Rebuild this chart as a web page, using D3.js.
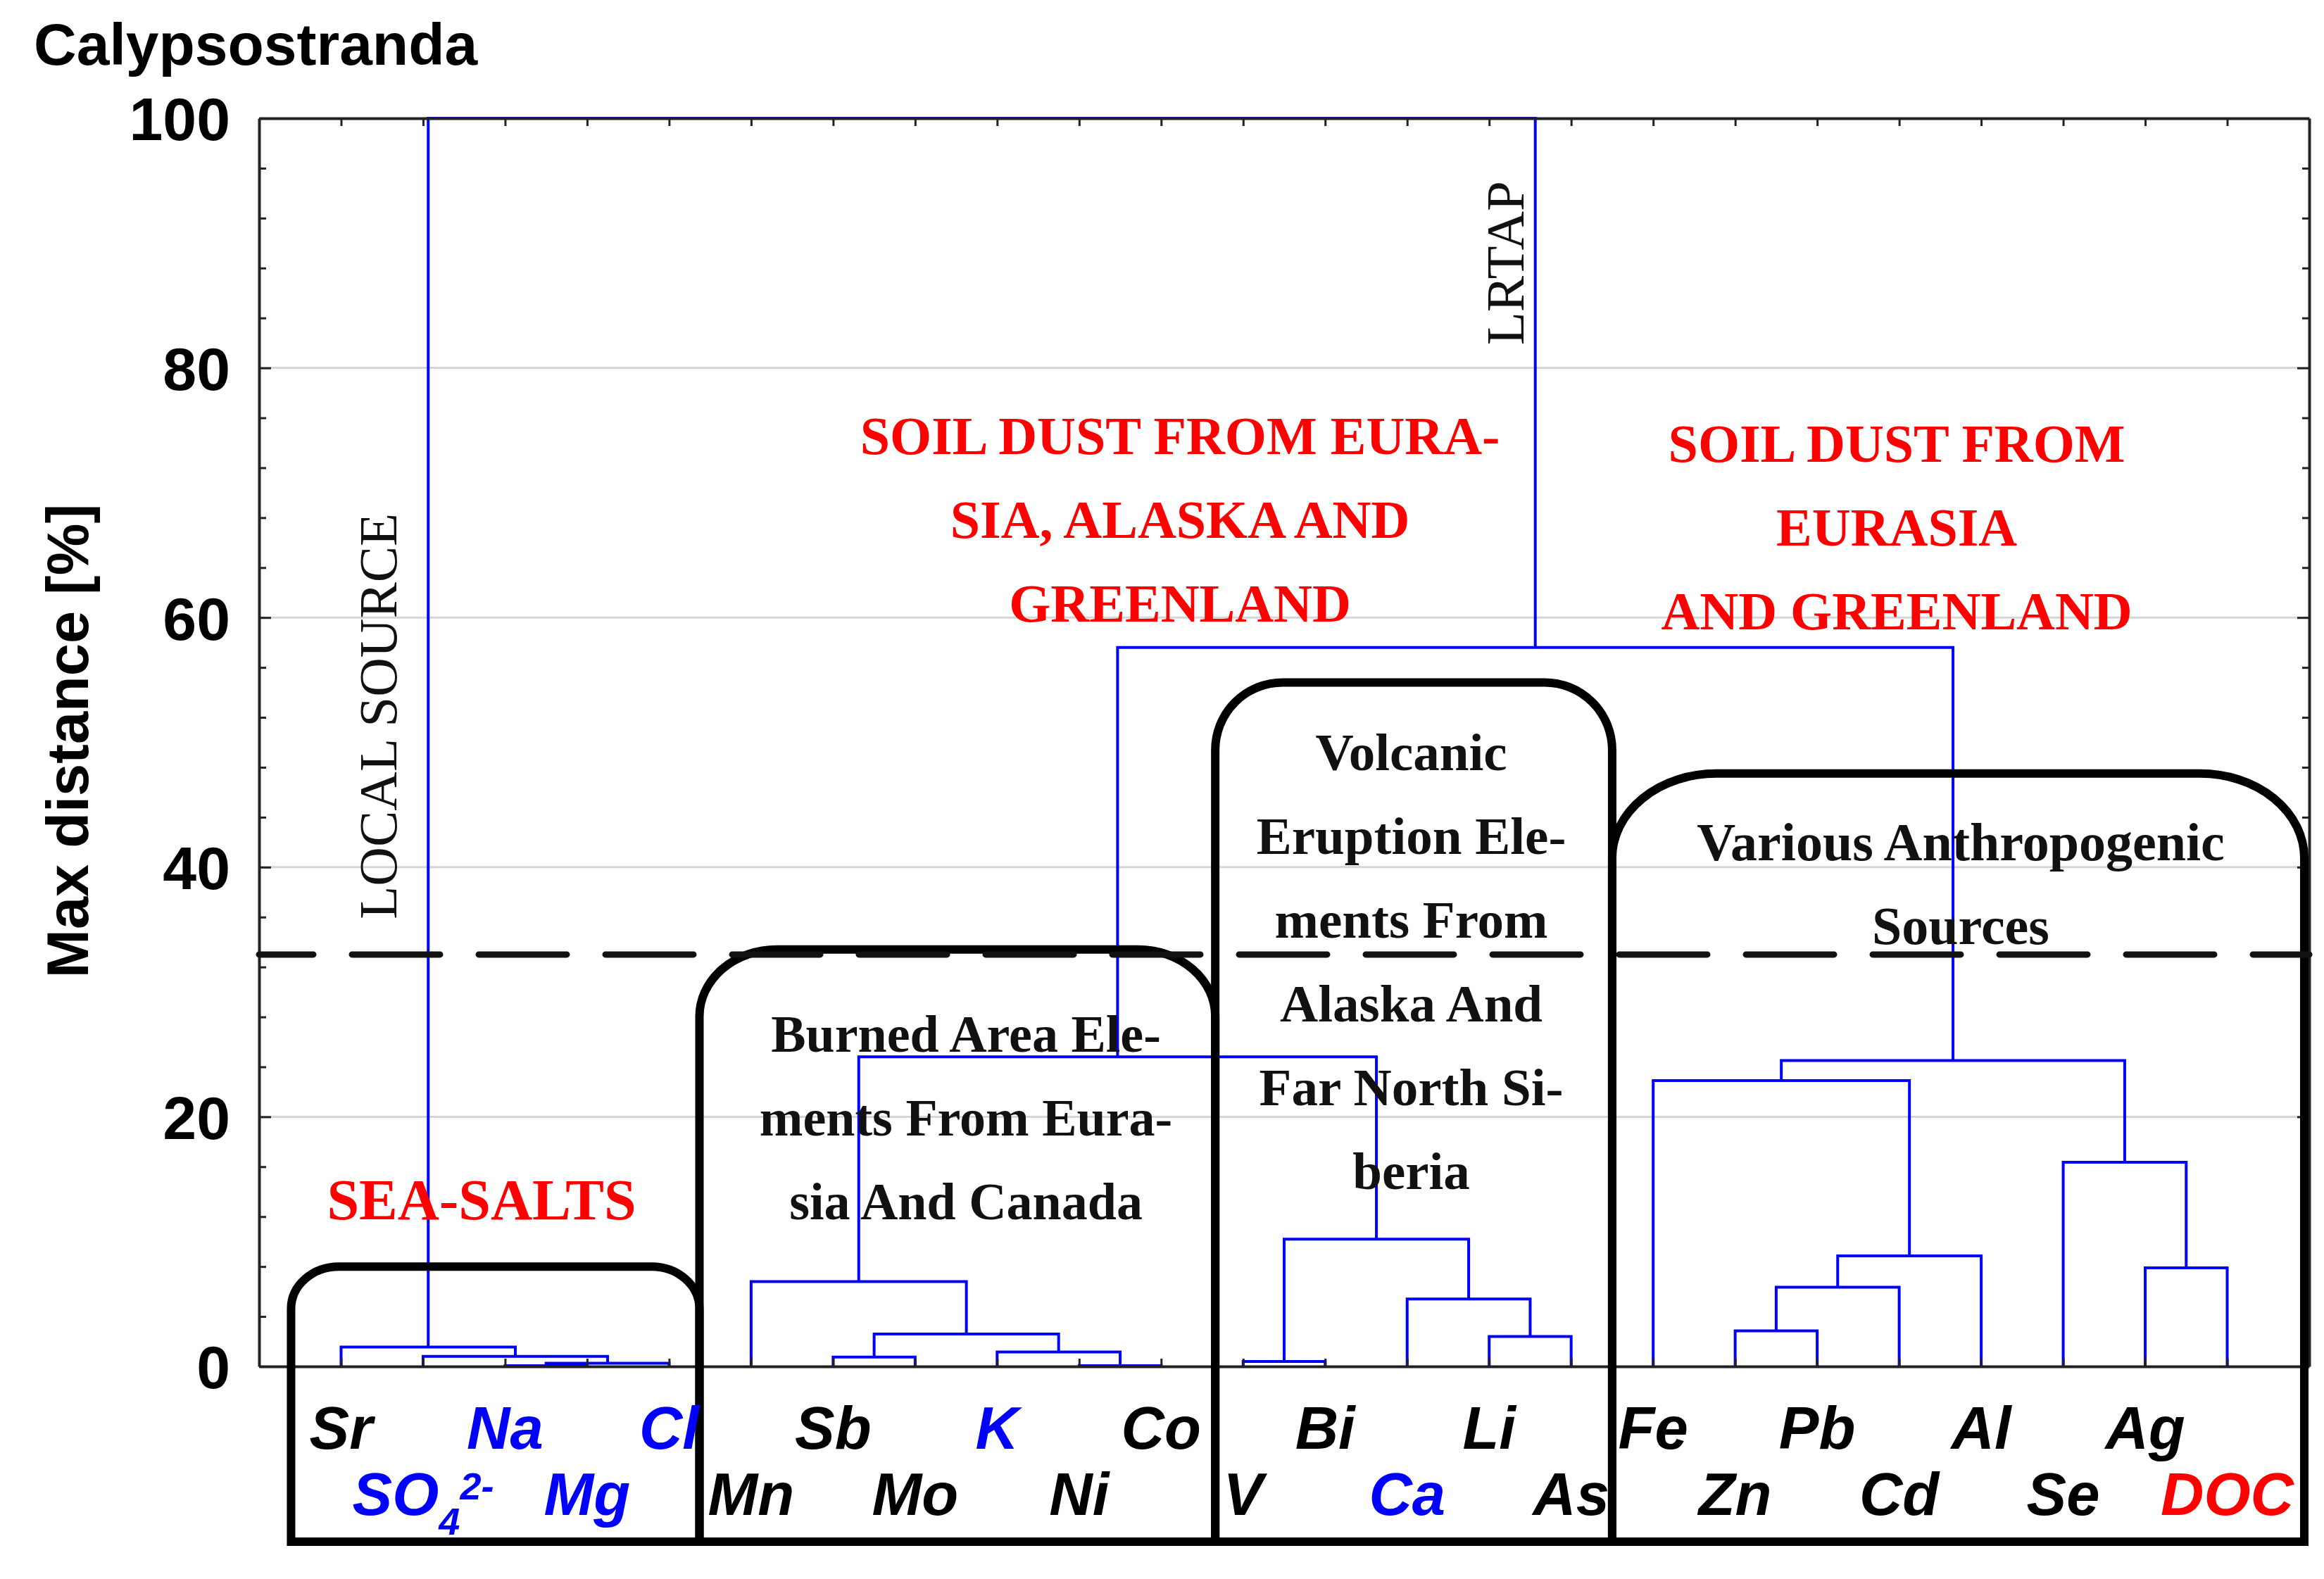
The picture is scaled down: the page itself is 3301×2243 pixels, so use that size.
<!DOCTYPE html>
<html>
<head>
<meta charset="utf-8">
<script src="https://cdn.jsdelivr.net/npm/d3@7"></script>
<style>
  body { margin: 0; background: #fff; }
</style>
</head>
<body>
<div id="vis"></div>
<script>
// leaves in tree order, left to right
const leaves = ['Sr', 'SO4', 'Na', 'Mg', 'Cl', 'Mn', 'Sb', 'Mo', 'K', 'Ni', 'Co', 'V',
  'Bi', 'Ca', 'Li', 'As', 'Fe', 'Zn', 'Pb', 'Cd', 'Al', 'Se', 'Ag', 'DOC'];
const blueLeaves = ['SO4', 'Na', 'Mg', 'Cl', 'K', 'Ca'];
const redLeaves = ['DOC'];

// linkage steps: [left, right, max distance %]; step i creates cluster 'c' + i
const merges = [
  ['Na', 'Mg', 0.05],
  ['c0', 'Cl', 0.25],
  ['SO4', 'c1', 0.8],
  ['Sr', 'c2', 1.55],
  ['Ni', 'Co', 0.05],
  ['Sb', 'Mo', 0.75],
  ['K', 'c4', 1.15],
  ['c5', 'c6', 2.6],
  ['Mn', 'c7', 6.8],
  ['V', 'Bi', 0.4],
  ['Li', 'As', 2.4],
  ['Ca', 'c10', 5.4],
  ['c9', 'c11', 10.2],
  ['c8', 'c12', 24.8],
  ['Zn', 'Pb', 2.85],
  ['c14', 'Cd', 6.35],
  ['c15', 'Al', 8.85],
  ['Fe', 'c16', 22.9],
  ['Ag', 'DOC', 7.9],
  ['Se', 'c18', 16.35],
  ['c17', 'c19', 24.5],
  ['c13', 'c20', 57.6],
  ['c3', 'c21', 100]
];

const yLabels = [0, 20, 40, 60, 80, 100];
const cutoff = 33;

// annotation groups (leaf units / distance %)
const groupBoxes = [
  { from: 0.39, to: 5.37, top: 8, rx: 68, ry: 60 },
  { from: 5.37, to: 11.66, top: 33.4, rx: 110, ry: 95 },
  { from: 11.66, to: 16.5, top: 54.8, rx: 96, ry: 96 },
  { from: 16.5, to: 24.94, top: 47.5, rx: 148, ry: 120 }
];
const boxBottom = -14.05;

const notes = [
  { lines: ['SEA-SALTS'], x: 2.713, y: 11.79, color: '#ff0000', size: 82 },
  { lines: ['SOIL DUST FROM EURA-', 'SIA, ALASKA AND', 'GREENLAND'], x: 11.23, y: 73.1, color: '#ff0000', size: 76 },
  { lines: ['SOIL DUST FROM', 'EURASIA', 'AND GREENLAND'], x: 19.97, y: 72.5, color: '#ff0000', size: 76 },
  { lines: ['Burned Area Ele-', 'ments From Eura-', 'sia And Canada'], x: 8.62, y: 25.2, color: '#111', size: 74 },
  { lines: ['Volcanic', 'Eruption Ele-', 'ments From', 'Alaska And', 'Far North Si-', 'beria'], x: 14.05, y: 47.8, color: '#111', size: 75 },
  { lines: ['Various Anthropogenic', 'Sources'], x: 20.75, y: 40.55, color: '#111', size: 76 }
];
const sideNotes = [
  { text: 'LOCAL SOURCE', x: 1.674, y: 52.1 },
  { text: 'LRTAP', x: 15.42, y: 88.4 }
];

const width = 3301, height = 2243;
const sans = 'Liberation Sans, Arial, sans-serif';
const serif = 'Liberation Serif, Times New Roman, serif';

const x = d3.scaleLinear().domain([0, leaves.length + 1]).range([368, 3280]);
const y = d3.scaleLinear().domain([0, 100]).range([1941, 168]);

const svg = d3.select('#vis')
  .append('svg')
  .attr('width', width)
  .attr('height', height)
  .style('background', '#fff');

// title
svg.append('text')
  .attr('x', 48)
  .attr('y', 92)
  .style('font-family', sans)
  .style('font-weight', 'bold')
  .style('font-size', '84px')
  .text('Calypsostranda');

// grid
svg.append('g')
  .selectAll('line')
  .data([20, 40, 60, 80])
  .enter()
  .append('line')
  .attr('x1', x.range()[0])
  .attr('x2', x.range()[1])
  .attr('y1', d => y(d))
  .attr('y2', d => y(d))
  .attr('stroke', '#d6d6d6')
  .attr('stroke-width', 3);

// dendrogram
const nodes = {};
leaves.forEach((name, i) => { nodes[name] = { pos: i + 1, h: 0 }; });
const links = merges.map(([a, b, h], i) => {
  const A = nodes[a], B = nodes[b];
  nodes['c' + i] = { pos: (A.pos + B.pos) / 2, h: h };
  return { A, B, h };
});

svg.append('g')
  .selectAll('path')
  .data(links)
  .enter()
  .append('path')
  .attr('d', d => `M${x(d.A.pos)},${y(d.A.h)}V${y(d.h)}H${x(d.B.pos)}V${y(d.B.h)}`)
  .attr('fill', 'none')
  .attr('stroke', '#0000ff')
  .attr('stroke-width', 4);

// axes
const minor = d3.range(0, 101, 4);
const yAxis = svg.append('g')
  .attr('transform', `translate(${x.range()[0]},0)`)
  .call(d3.axisLeft(y).tickValues(minor).tickSize(-10).tickSizeOuter(0).tickPadding(41)
    .tickFormat(d => yLabels.includes(d) ? d : ''));
yAxis.selectAll('.tick line')
  .attr('x2', d => d % 20 === 0 ? 17 : 10);
yAxis.selectAll('.tick text')
  .attr('dy', '0.36em')
  .style('font-family', sans)
  .style('font-weight', 'bold')
  .style('font-size', '86px')
  .attr('fill', '#000');

const yAxisRight = svg.append('g')
  .attr('transform', `translate(${x.range()[1]},0)`)
  .call(d3.axisRight(y).tickValues(minor).tickSize(-10).tickSizeOuter(0).tickFormat(''));
yAxisRight.selectAll('.tick line')
  .attr('x2', d => d % 20 === 0 ? -17 : -10);

const leafPos = leaves.map((d, i) => i + 1);
const xTop = svg.append('g')
  .attr('transform', `translate(0,${y(100)})`)
  .call(d3.axisTop(x).tickValues(leafPos).tickSize(-11).tickSizeOuter(0).tickFormat(''));
const xBottom = svg.append('g')
  .attr('transform', `translate(0,${y(0)})`)
  .call(d3.axisBottom(x).tickValues(leafPos).tickSize(-11).tickSizeOuter(0).tickFormat(''));

[yAxis, yAxisRight, xTop, xBottom].forEach(g => {
  g.select('.domain').attr('stroke', '#222').attr('stroke-width', 4);
  g.selectAll('.tick line').attr('stroke', '#222').attr('stroke-width', 3);
});

// y axis title
svg.append('text')
  .attr('transform', `translate(125,${y(50) - 2}) rotate(-90)`)
  .attr('text-anchor', 'middle')
  .style('font-family', sans)
  .style('font-weight', 'bold')
  .style('font-size', '83px')
  .text('Max distance [%]');

// group boxes
const yb = y(boxBottom);
svg.append('g')
  .selectAll('path')
  .data(groupBoxes)
  .enter()
  .append('path')
  .attr('d', d => {
    const x0 = x(d.from), x1 = x(d.to), yt = y(d.top);
    return `M${x0},${yb}V${yt + d.ry}A${d.rx},${d.ry} 0 0 1 ${x0 + d.rx},${yt}` +
      `H${x1 - d.rx}A${d.rx},${d.ry} 0 0 1 ${x1},${yt + d.ry}V${yb}Z`;
  })
  .attr('fill', 'none')
  .attr('stroke', '#000')
  .attr('stroke-width', 12)
  .attr('stroke-linejoin', 'miter');

// cut-off line
svg.append('line')
  .attr('x1', x.range()[0])
  .attr('x2', x.range()[1])
  .attr('y1', y(cutoff))
  .attr('y2', y(cutoff))
  .attr('stroke', '#111')
  .attr('stroke-width', 9)
  .attr('stroke-linecap', 'round')
  .attr('stroke-dasharray', '125,55')
  .attr('stroke-dashoffset', 48);

// leaf labels, two staggered rows
const leafLabels = svg.append('g')
  .selectAll('text')
  .data(leaves)
  .enter()
  .append('text')
  .attr('x', (d, i) => x(i + 1))
  .attr('y', (d, i) => y(0) + (i % 2 === 0 ? 117 : 211))
  .attr('text-anchor', 'middle')
  .style('font-family', sans)
  .style('font-weight', 'bold')
  .style('font-style', 'italic')
  .style('font-size', '85px')
  .attr('fill', d => blueLeaves.includes(d) ? '#0000ff' : redLeaves.includes(d) ? '#ff0000' : '#000');

leafLabels.each(function(d) {
  const t = d3.select(this);
  if (d === 'SO4') {
    t.append('tspan').text('SO');
    t.append('tspan').attr('dy', 28).style('font-size', '54px').text('4');
    t.append('tspan').attr('dy', -50).style('font-size', '54px').text('2-');
  } else {
    t.text(d);
  }
});

// group notes
notes.forEach(n => {
  const t = svg.append('text')
    .attr('text-anchor', 'middle')
    .attr('fill', n.color)
    .style('font-family', serif)
    .style('font-weight', 'bold')
    .style('font-size', n.size + 'px');
  n.lines.forEach((line, i) => {
    t.append('tspan')
      .attr('x', x(n.x))
      .attr('y', y(n.y) + i * 119)
      .text(line);
  });
});

svg.append('g')
  .selectAll('text')
  .data(sideNotes)
  .enter()
  .append('text')
  .attr('transform', d => `translate(${x(d.x)},${y(d.y)}) rotate(-90)`)
  .attr('text-anchor', 'middle')
  .style('font-family', serif)
  .style('font-size', '77px')
  .attr('fill', '#111')
  .text(d => d.text);
</script>
</body>
</html>
